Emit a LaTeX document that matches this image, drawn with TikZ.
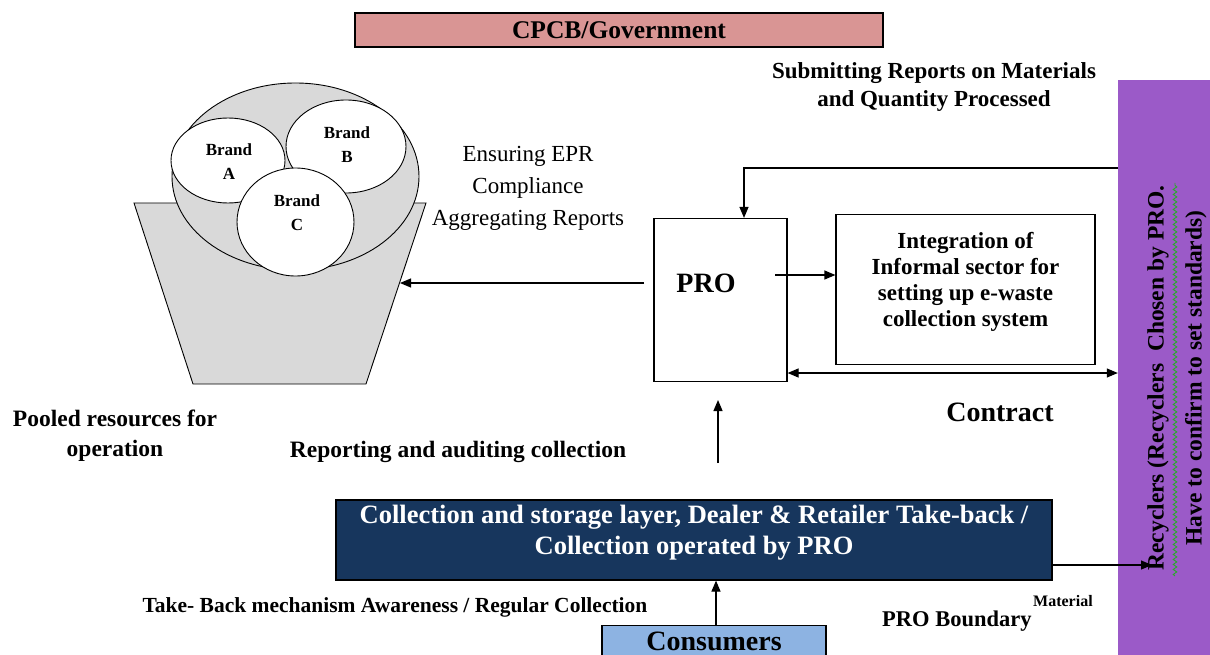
\documentclass[tikz,border=0pt]{standalone}
\usepackage{fontspec}
\setmainfont{Liberation Serif}
\usetikzlibrary{arrows.meta,decorations.pathmorphing}

\definecolor{govpink}{RGB}{217,149,148}
\definecolor{recpurple}{RGB}{155,90,200}
\definecolor{layernavy}{RGB}{23,54,93}
\definecolor{consblue}{RGB}{141,179,226}
\definecolor{bucketgray}{RGB}{217,217,217}
\definecolor{spellgreen}{RGB}{40,170,40}

\newcommand\fsz[2]{\fontsize{#1}{#2}\selectfont}

\tikzset{
  box/.style={draw=black, line width=1.2pt, inner sep=0pt, align=center},
  lbl/.style={inner sep=0pt, align=center, font=\bfseries\fsz{23}{28}},
  brand/.style={draw=black, line width=0.9pt, fill=white},
  brandtxt/.style={inner sep=0pt, align=center, font=\bfseries\fsz{17}{24}},
  arr/.style={line width=1.2pt, -{Triangle[length=11pt,width=9pt]}},
  darr/.style={line width=1.2pt, {Triangle[length=11pt,width=9pt]}-{Triangle[length=11pt,width=9pt]}}
}

\begin{document}
\begin{tikzpicture}[x=1pt,y=-1pt]
\useasboundingbox (0,0) rectangle (1210,655);

% government box
\node[box, fill=govpink, minimum width=528pt, minimum height=34pt,
      font=\bfseries\fsz{25.5}{28}] (gov) at (619,30) {CPCB/Government};

% recyclers bar
\node[fill=recpurple, minimum width=92pt, minimum height=576pt, inner sep=0pt] (rec) at (1164,368) {};
\node[rotate=90, inner sep=0pt, align=center, font=\bfseries\fsz{23.5}{38}] (rectxt) at (1177,378)
  {Recyclers (Recyclers\ \ Chosen by PRO.\\Have to confirm to set standards)};
\draw[spellgreen, line width=0.9pt, decorate, decoration={snake, segment length=5pt, amplitude=1.8pt}]
  (1175,576) -- (1175,183);

\node[lbl] (submit) at (934,87) {Submitting Reports on Materials\\and Quantity Processed};

% brand owners: bucket holding the pooled brands
\coordinate (btl) at (134,203);
\coordinate (btr) at (426,203);
\coordinate (bbr) at (366,384);
\coordinate (bbl) at (193,384);
\draw[fill=bucketgray, line width=0.9pt] (btl) -- (btr) -- (bbr) -- (bbl) -- cycle;
\draw[fill=bucketgray, line width=0.9pt] (295.5,176.5) ellipse [x radius=123.5pt, y radius=93.5pt];
\draw[brand] (228,160.5) ellipse [x radius=57pt, y radius=42.5pt];
\draw[brand] (346,146.5) ellipse [x radius=60pt, y radius=46.5pt];
\draw[brand] (295.5,222) ellipse [x radius=58.5pt, y radius=54pt];
\node[brandtxt] (ba) at (229,162) {Brand\\A};
\node[brandtxt] (bb) at (347,145) {Brand\\B};
\node[brandtxt] (bc) at (297,213) {Brand\\C};
\coordinate (bucketedge) at (400,283);

\node[inner sep=0pt, align=center, font=\fsz{23}{32}] (epr) at (528,188)
  {Ensuring EPR\\Compliance\\Aggregating Reports};

% PRO and informal sector
\node[box, minimum width=133pt, minimum height=163pt] (pro) at (720.5,300) {};
\node[inner sep=0pt, font=\bfseries\fsz{28}{30}] (protxt) at (706,283) {PRO};
\node[box, minimum width=259pt, minimum height=150pt] (inf) at (965.5,289.5) {};
\node[inner sep=0pt, align=center, font=\bfseries\fsz{23}{26}] (inftxt) at (965.5,282)
  {Integration of\\Informal sector for\\setting up e-waste\\collection system};

\coordinate (prostart) at (775,275);
\coordinate (pleft) at (644,283);
\coordinate (fbin) at (1118,168);
\coordinate (fbturn) at (744,168);

\draw[arr] (prostart) -- (inf.west |- prostart);
\draw[arr] (pleft) -- (bucketedge);
\draw[arr] (fbin) -- (fbturn) -- (fbturn |- pro.north);
\draw[darr] (pro.south east |- 0,373) -- (rec.west |- 0,373);

\node[inner sep=0pt, font=\bfseries\fsz{28}{30}] (contract) at (1000,412) {Contract};

\node[lbl, font=\bfseries\fsz{23.5}{30}] (pooled) at (115,436) {Pooled resources for\\operation};
\node[lbl, font=\bfseries\fsz{23.5}{28}] (report) at (458,452) {Reporting and auditing collection};

% collection layer and consumers
\node[box, fill=layernavy, minimum width=716pt, minimum height=80pt] (layer) at (694,540) {};
\node[inner sep=0pt, align=center, text=white, font=\bfseries\fsz{26.5}{31}] (layertxt) at (694,533)
  {Collection and storage layer, Dealer \& Retailer Take-back /\\Collection operated by PRO};
\coordinate (uparrfoot) at (718,463);
\draw[arr] (uparrfoot) -- (uparrfoot |- 0,400);

\node[box, fill=consblue, minimum width=224pt, minimum height=40pt, anchor=north] (cons) at (714,625) {};
\node[inner sep=0pt, font=\bfseries\fsz{28}{30}] (constxt) at (714,641) {Consumers};
\draw[arr] (cons.north -| 716,0) -- (layer.south -| 716,0);

\coordinate (recin) at (1152,565);
\draw[arr] (layer.east |- recin) -- (recin);

\node[inner sep=0pt, font=\bfseries\fsz{21.5}{24}] (takeback) at (395,607)
  {Take- Back mechanism Awareness / Regular Collection};
\node[inner sep=0pt, anchor=west, font=\bfseries\fsz{22.5}{24}] (boundary) at (882,621) {PRO Boundary};
\node[inner sep=0pt, anchor=west, font=\bfseries\fsz{16}{18}] (material) at (1033,601) {Material};
\end{tikzpicture}
\end{document}
